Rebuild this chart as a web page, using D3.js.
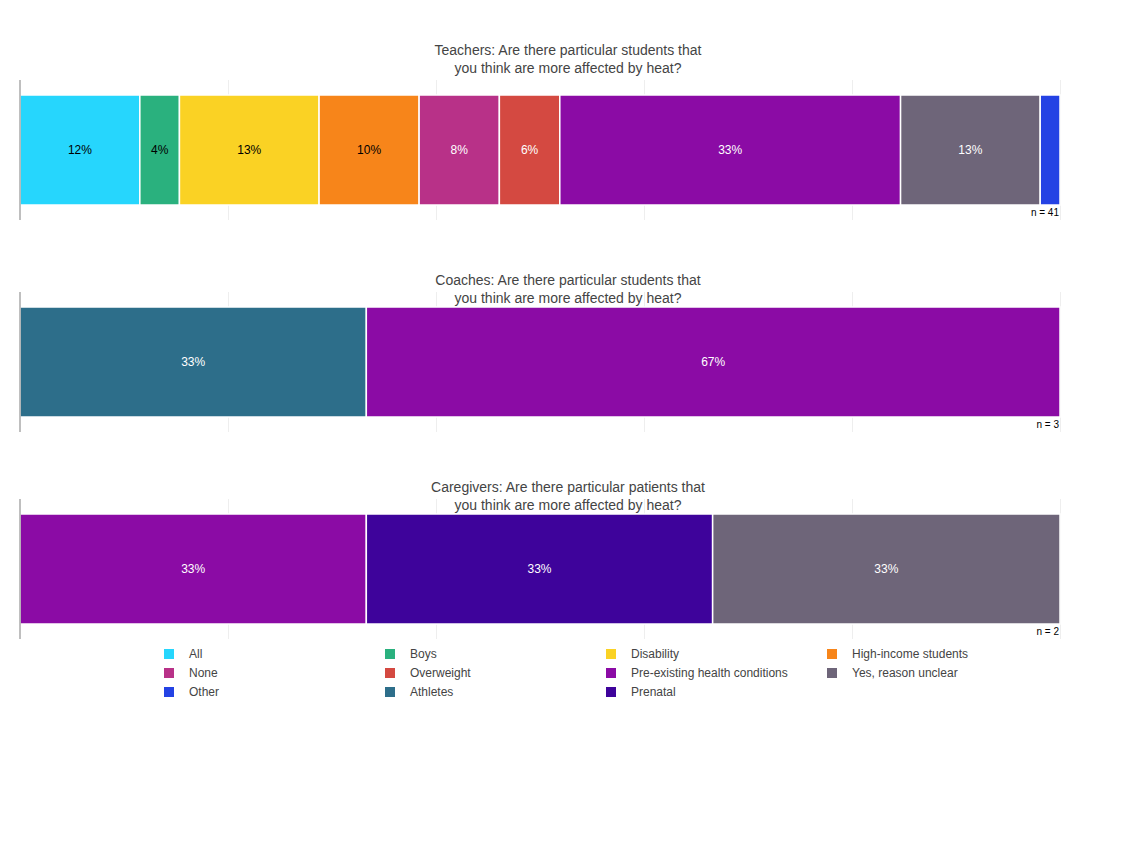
<!DOCTYPE html>
<html>
<head>
<meta charset="utf-8">
<script src="https://cdn.jsdelivr.net/npm/d3@7"></script>
<style>
  body { margin: 0; background: #fff; }
  svg { font-family: "Liberation Sans", Arial, sans-serif; }
</style>
</head>
<body>
<div id="chart"></div>
<script>
// legend order of the answer categories
var categories = ["All", "None", "Other", "Boys", "Overweight", "Athletes",
  "Disability", "Pre-existing health conditions", "Prenatal",
  "High-income students", "Yes, reason unclear"];
var catColors = ["#26d6fd", "#b83188", "#2442e4", "#2ab17e", "#d44941", "#2d6e8a",
  "#fad224", "#8b0ba5", "#3e039b", "#f7851a", "#6e6579"];

// each panel: stacked segments in drawing order (percent of answers)
var teachersCats = ["All", "Boys", "Disability", "High-income students", "None",
  "Overweight", "Pre-existing health conditions", "Yes, reason unclear", "Other"];
var teachersValues = [11.5, 3.8, 13.4, 9.6, 7.7, 5.8, 32.7, 13.4, 1.9];

var coachesCats = ["Athletes", "Pre-existing health conditions"];
var coachesValues = [33.3, 66.7];

var caregiversCats = ["Pre-existing health conditions", "Prenatal", "Yes, reason unclear"];
var caregiversValues = [33.3, 33.3, 33.4];

var titles = [
  ["Teachers: Are there particular students that", "you think are more affected by heat?"],
  ["Coaches: Are there particular students that", "you think are more affected by heat?"],
  ["Caregivers: Are there particular patients that", "you think are more affected by heat?"]
];
var nLabels = ["n = 41", "n = 3", "n = 2"];

var panels = [
  { cats: teachersCats, values: teachersValues },
  { cats: coachesCats, values: coachesValues },
  { cats: caregiversCats, values: caregiversValues }
];

var width = 1136, height = 852;
var svg = d3.select("#chart").append("svg")
  .attr("width", width).attr("height", height);

var color = d3.scaleOrdinal().domain(categories).range(catColors);
var darkText = ["All", "Boys", "Disability", "High-income students"];

var panelTop = [80, 292, 499];   // top of each plot area
var titleY = [55, 285, 492];     // baseline of first title line
var plotH = 140, barPad = 15;

panels.forEach(function(p, pi) {
  var top = panelTop[pi];
  var g = svg.append("g");
  var x = d3.scaleLinear().domain([0, d3.sum(p.values)]).range([20, 1060]);
  var grid = d3.scaleLinear().domain([0, 100]).range([20, 1060]);

  // vertical grid lines every 20%
  g.append("g")
    .attr("transform", "translate(0," + top + ")")
    .call(d3.axisBottom(grid).tickValues([20, 40, 60, 80, 100]).tickSize(plotH).tickFormat(""))
    .call(function(a) {
      a.select(".domain").remove();
      a.selectAll("line").attr("stroke", "#eee");
    });

  // title, centred on the page
  var t = g.append("text")
    .attr("x", width / 2).attr("y", titleY[pi])
    .attr("text-anchor", "middle")
    .attr("font-size", 14).attr("fill", "#444");
  titles[pi].forEach(function(line, li) {
    t.append("tspan").attr("x", width / 2).attr("dy", li ? 18 : 0).text(line);
  });

  // stacked segments
  var starts = d3.cumsum([0].concat(p.values));
  var segs = p.values.map(function(v, i) {
    return { cat: p.cats[i], v: v, x0: starts[i], x1: starts[i] + v };
  });

  var seg = g.selectAll("g.seg").data(segs).enter().append("g").attr("class", "seg");
  seg.append("rect")
    .attr("x", function(d) { return x(d.x0); })
    .attr("width", function(d) { return x(d.x1) - x(d.x0); })
    .attr("y", top + barPad)
    .attr("height", plotH - 2 * barPad)
    .attr("fill", function(d) { return color(d.cat); })
    .attr("stroke", "#fff").attr("stroke-width", 1.5);
  seg.filter(function(d) { return x(d.x1) - x(d.x0) > 30; })
    .append("text")
    .attr("x", function(d) { return (x(d.x0) + x(d.x1)) / 2; })
    .attr("y", top + plotH / 2 + 4)
    .attr("text-anchor", "middle")
    .attr("font-size", 12)
    .attr("fill", function(d) { return darkText.indexOf(d.cat) >= 0 ? "#000" : "#fff"; })
    .text(function(d) { return Math.round(d.v) + "%"; });

  // left axis line
  g.append("line")
    .attr("x1", 20).attr("x2", 20)
    .attr("y1", top).attr("y2", top + plotH)
    .attr("stroke", "#aaa").attr("stroke-width", 1.5);

  // n label
  g.append("text")
    .attr("x", 1059).attr("y", top + plotH - 4)
    .attr("text-anchor", "end")
    .attr("font-size", 10).attr("fill", "#000")
    .text(nLabels[pi]);
});

// legend, 4 columns filled row by row
var legendOrder = ["All", "Boys", "Disability", "High-income students",
  "None", "Overweight", "Pre-existing health conditions", "Yes, reason unclear",
  "Other", "Athletes", "Prenatal"];
var colX = [164, 385, 606, 827];
var leg = svg.append("g").selectAll("g").data(legendOrder).enter().append("g")
  .attr("transform", function(d, i) {
    return "translate(" + colX[i % 4] + "," + (654 + Math.floor(i / 4) * 19) + ")";
  });
leg.append("rect")
  .attr("x", 0).attr("y", -5).attr("width", 10).attr("height", 10)
  .attr("fill", function(d) { return color(d); });
leg.append("text")
  .attr("x", 25).attr("y", 4)
  .attr("font-size", 12).attr("fill", "#444")
  .text(function(d) { return d; });
</script>
</body>
</html>
